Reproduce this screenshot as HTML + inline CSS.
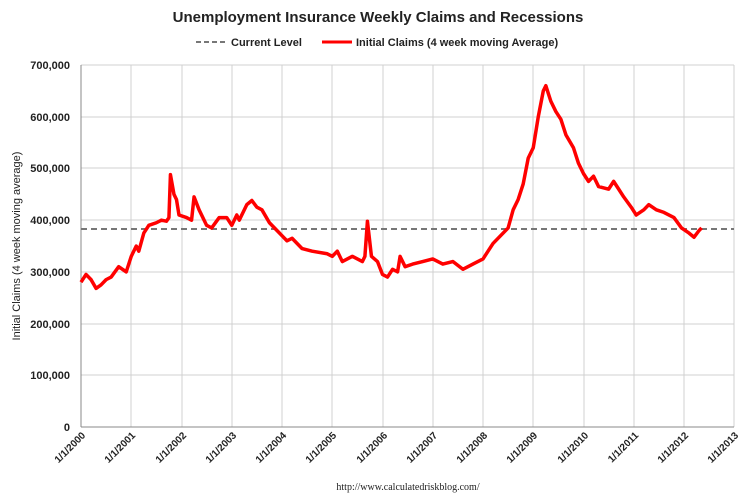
<!DOCTYPE html>
<html><head><style>
body{margin:0;background:#fff;}
text{font-family:"Liberation Sans",sans-serif;}
</style></head><body>
<svg width="750" height="498" xmlns="http://www.w3.org/2000/svg">
<text x="378" y="22" font-size="15" font-weight="bold" text-anchor="middle" fill="#222">Unemployment Insurance Weekly Claims and Recessions</text>
<line x1="196" y1="42" x2="226" y2="42" stroke="#777" stroke-width="2" stroke-dasharray="5,3"/>
<text x="231" y="46" font-size="11" font-weight="bold" fill="#222">Current Level</text>
<line x1="322" y1="42" x2="352" y2="42" stroke="#f00" stroke-width="3"/>
<text x="356" y="46" font-size="11" font-weight="bold" fill="#222">Initial Claims (4 week moving Average)</text>
<g stroke="#d0d0d0" stroke-width="1">
<line x1="81" y1="65" x2="734" y2="65"/><line x1="81" y1="117" x2="734" y2="117"/><line x1="81" y1="168" x2="734" y2="168"/><line x1="81" y1="220" x2="734" y2="220"/><line x1="81" y1="272" x2="734" y2="272"/><line x1="81" y1="324" x2="734" y2="324"/><line x1="81" y1="375" x2="734" y2="375"/>
<line x1="131" y1="65" x2="131" y2="427"/><line x1="182" y1="65" x2="182" y2="427"/><line x1="232" y1="65" x2="232" y2="427"/><line x1="282" y1="65" x2="282" y2="427"/><line x1="332" y1="65" x2="332" y2="427"/><line x1="383" y1="65" x2="383" y2="427"/><line x1="433" y1="65" x2="433" y2="427"/><line x1="483" y1="65" x2="483" y2="427"/><line x1="533" y1="65" x2="533" y2="427"/><line x1="584" y1="65" x2="584" y2="427"/><line x1="634" y1="65" x2="634" y2="427"/><line x1="684" y1="65" x2="684" y2="427"/><line x1="734" y1="65" x2="734" y2="427"/>
</g>
<line x1="81" y1="65" x2="81" y2="427" stroke="#888"/>
<line x1="81" y1="427" x2="734" y2="427" stroke="#888"/>
<g font-size="11" font-weight="bold" fill="#222" text-anchor="end">
<text x="70" y="69">700,000</text><text x="70" y="121">600,000</text><text x="70" y="172">500,000</text><text x="70" y="224">400,000</text><text x="70" y="276">300,000</text><text x="70" y="328">200,000</text><text x="70" y="379">100,000</text><text x="70" y="431">0</text>
</g>
<text transform="translate(20,246) rotate(-90)" font-size="11" text-anchor="middle" fill="#222">Initial Claims (4 week moving average)</text>
<g font-size="10" font-weight="bold" fill="#222" text-anchor="end">
<text transform="translate(86,436) rotate(-45)">1/1/2000</text>
<text transform="translate(136,436) rotate(-45)">1/1/2001</text>
<text transform="translate(187,436) rotate(-45)">1/1/2002</text>
<text transform="translate(237,436) rotate(-45)">1/1/2003</text>
<text transform="translate(287,436) rotate(-45)">1/1/2004</text>
<text transform="translate(337,436) rotate(-45)">1/1/2005</text>
<text transform="translate(388,436) rotate(-45)">1/1/2006</text>
<text transform="translate(438,436) rotate(-45)">1/1/2007</text>
<text transform="translate(488,436) rotate(-45)">1/1/2008</text>
<text transform="translate(538,436) rotate(-45)">1/1/2009</text>
<text transform="translate(589,436) rotate(-45)">1/1/2010</text>
<text transform="translate(639,436) rotate(-45)">1/1/2011</text>
<text transform="translate(689,436) rotate(-45)">1/1/2012</text>
<text transform="translate(739,436) rotate(-45)">1/1/2013</text>
</g>
<line x1="81" y1="229" x2="734" y2="229" stroke="#777" stroke-width="2" stroke-dasharray="6,4"/>
<g transform="translate(81,427) scale(50.25,-0.5171)">
<polyline fill="none" stroke="#f00" stroke-width="3.5" stroke-linejoin="round" vector-effect="non-scaling-stroke" points="0,280 0.1,295 0.2,285 0.3,268 0.4,275 0.5,285 0.6,290 0.75,310 0.9,300 1.0,330 1.1,350 1.15,340 1.25,375 1.35,390 1.5,395 1.6,400 1.7,398 1.75,405 1.78,488 1.85,450 1.9,440 1.95,410 2.1,405 2.2,400 2.25,445 2.35,420 2.5,390 2.6,385 2.75,405 2.9,405 3.0,390 3.1,410 3.15,400 3.3,430 3.4,438 3.5,425 3.6,420 3.75,395 3.9,380 4.0,370 4.1,360 4.2,365 4.4,345 4.6,340 4.9,335 5.0,330 5.1,340 5.2,320 5.4,330 5.6,320 5.65,330 5.7,398 5.78,330 5.9,320 6.0,295 6.1,290 6.2,305 6.3,300 6.35,330 6.45,310 6.6,315 6.8,320 7.0,325 7.2,315 7.4,320 7.6,305 7.8,315 8.0,325 8.1,340 8.2,355 8.35,370 8.5,385 8.6,420 8.7,440 8.8,470 8.9,520 9.0,540 9.1,600 9.2,650 9.25,660 9.35,630 9.45,610 9.55,595 9.65,565 9.8,540 9.9,510 10.0,490 10.1,475 10.2,485 10.3,465 10.5,460 10.6,475 10.7,460 10.8,445 10.95,425 11.05,410 11.2,420 11.3,430 11.45,420 11.6,415 11.8,405 11.95,385 12.1,375 12.2,367 12.3,380 12.35,385"/>
</g>
<text x="408" y="490" font-size="10" text-anchor="middle" fill="#222" style="font-family:'Liberation Serif',serif">http://www.calculatedriskblog.com/</text>
</svg>
</body></html>
